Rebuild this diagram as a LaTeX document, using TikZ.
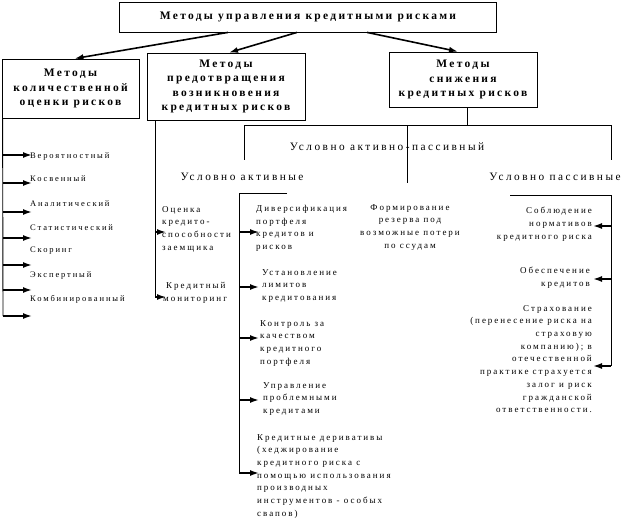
\documentclass[tikz,border=0pt]{standalone}
\usepackage{fontspec}
\setmainfont{Liberation Serif}
\newfontfamily\widefont[LetterSpace=22]{Liberation Serif}
\newfontfamily\boxfont[LetterSpace=20]{Liberation Serif}
\usetikzlibrary{arrows.meta}

\begin{document}
\begin{tikzpicture}[x=1pt, y=-1pt,
  box/.style={draw, line width=0.8pt, align=center, inner sep=2pt,
              font=\boxfont\bfseries\fontsize{11.5}{14.5}\selectfont},
  hdr/.style={inner sep=0pt, font=\widefont\fontsize{11.3}{12}\selectfont},
  txt/.style={inner sep=0pt, align=left, font=\widefont\fontsize{9}{12.7}\selectfont},
  qtxt/.style={txt, font=\widefont\fontsize{8.5}{12.7}\selectfont},
  arrow/.style={-{Latex[length=9pt, width=6pt]}, line width=1.6pt},
  bracket/.style={line width=0.9pt}
]
\useasboundingbox (0,0) rectangle (623,529);

% row 1: the main box and the three groups of methods
\node[box, minimum width=377pt, minimum height=30pt] (top) at (308,17) {Методы управления кредитными рисками};
\node[box, minimum width=137pt, minimum height=59pt] (qnt) at (70.5,88.5) {Методы\\ количественной\\ оценки рисков};
\node[box, minimum width=158pt, minimum height=67pt] (prv) at (226,86.5) {Методы\\ предотвращения\\ возникновения\\ кредитных рисков};
\node[box, minimum width=148pt, minimum height=55pt] (red) at (463,79.5) {Методы\\ снижения\\ кредитных рисков};

\draw[arrow] ([xshift=-80pt]top.south) -- ([xshift=4pt]qnt.north);
\draw[arrow] ([xshift=-11pt]top.south) -- ([xshift=3pt]prv.north);
\draw[arrow] ([xshift=59pt]top.south) -- ([xshift=-5pt]red.north);

% left column: quantitative methods
\node[qtxt, anchor=west] (prob) at (30,156) {Вероятностный};
\node[qtxt, anchor=west] (indir) at (30,179) {Косвенный};
\node[qtxt, anchor=west] (anal) at (30,204) {Аналитический};
\node[qtxt, anchor=west] (stat) at (30,228) {Статистический};
\node[qtxt, anchor=west] (scor) at (30,251) {Скоринг};
\node[qtxt, anchor=west] (expr) at (30,275) {Экспертный};
\node[qtxt, anchor=west] (comb) at (30,299) {Комбинированный};

\coordinate (q1) at (32,155);
\coordinate (q2) at (32,183);
\coordinate (q3) at (32,212);
\coordinate (q4) at (32,238);
\coordinate (q5) at (32,265);
\coordinate (q6) at (32,290);
\coordinate (q7) at (32,316);
\coordinate (qbot) at (3,316);

\draw[bracket] ([xshift=1pt]qnt.south west) -- (qbot);
\draw[arrow] (qbot |- q1) -- (q1);
\draw[arrow] (qbot |- q2) -- (q2);
\draw[arrow] (qbot |- q3) -- (q3);
\draw[arrow] (qbot |- q4) -- (q4);
\draw[arrow] (qbot |- q5) -- (q5);
\draw[arrow] (qbot |- q6) -- (q6);
\draw[arrow] (qbot) -- (q7);

% middle column: prevention
\node[txt, anchor=north west] (solv) at (162,206) {Оценка\\ кредито-\\ способности\\ заемщика};
\node[txt, anchor=north west] (moni) at (163,282) {\hspace*{3pt}Кредитный\\ мониторинг};
\coordinate (pbot) at (155,297);
\coordinate (p1) at (166,232);
\coordinate (p2) at (166,297);

\draw[bracket] (prv.south -| pbot) -- (pbot);
\draw[arrow] (pbot |- p1) -- (p1);
\draw[arrow] (pbot) -- (p2);

% right column: reduction, split into three groups
\coordinate (rfork) at (467,125);
\coordinate (ra) at (244,160);
\coordinate (rm) at (407,183);
\coordinate (rp) at (611,160);

\draw[bracket] (red.south -| rfork) -- (rfork);
\draw[bracket] (ra) -- (ra |- rfork) -- (rp |- rfork) -- (rp);
\draw[bracket] (rm) -- (rm |- rfork);

\node[hdr] (actpas) at (387,147) {Условно активно-пассивный};
\node[hdr] (act) at (242,177) {Условно активные};
\node[hdr] (pas) at (555,177) {Условно пассивные};

% active methods
\node[txt, anchor=north west] (div) at (256,205) {Диверсификация\\ портфеля\\ кредитов и\\ рисков};
\node[txt, anchor=north west] (lim) at (262,269) {Установление\\ лимитов\\ кредитования};
\node[txt, anchor=north west] (ctrl) at (260,320) {Контроль за\\ качеством\\ кредитного\\ портфеля};
\node[txt, anchor=north west] (prob2) at (263,382) {Управление\\ проблемными\\ кредитами};
\node[txt, anchor=north west] (deriv) at (257,434) {Кредитные деривативы\\ (хеджирование\\ кредитного риска с\\ помощью использования\\ производных\\ инструментов - особых\\ свапов)};

\coordinate (atop) at (287,193);
\coordinate (abot) at (239,473);
\coordinate (a1) at (259,232);
\coordinate (a2) at (259,287);
\coordinate (a3) at (259,338);
\coordinate (a4) at (259,400);
\coordinate (a5) at (259,473);

\draw[bracket] (atop) -| (abot);
\draw[arrow] (abot |- a1) -- (a1);
\draw[arrow] (abot |- a2) -- (a2);
\draw[arrow] (abot |- a3) -- (a3);
\draw[arrow] (abot |- a4) -- (a4);
\draw[arrow] (abot) -- (a5);

% active-passive method
\node[txt, align=center, anchor=north] (resv) at (410,204) {Формирование\\ резерва под\\ возможные потери\\ по ссудам};

% passive methods
\node[txt, align=right, anchor=north east] (norm) at (592,207) {Соблюдение\\ нормативов\\ кредитного риска};
\node[txt, align=right, anchor=north east] (coll) at (590,267) {Обеспечение\\ кредитов};
\node[txt, align=right, anchor=north east] (insu) at (592,305) {Страхование\\ (перенесение риска на\\ страховую\\ компанию); в\\ отечественной\\ практике страхуется\\ залог и риск\\ гражданской\\ ответственности.};

\coordinate (ptop) at (510,195);
\coordinate (pend) at (611,366);
\coordinate (s1) at (593,226);
\coordinate (s2) at (593,279);
\coordinate (s3) at (593,366);

\draw[bracket] (ptop) -| (pend);
\draw[arrow] (pend |- s1) -- (s1);
\draw[arrow] (pend |- s2) -- (s2);
\draw[arrow] (pend) -- (s3);
\end{tikzpicture}
\end{document}
